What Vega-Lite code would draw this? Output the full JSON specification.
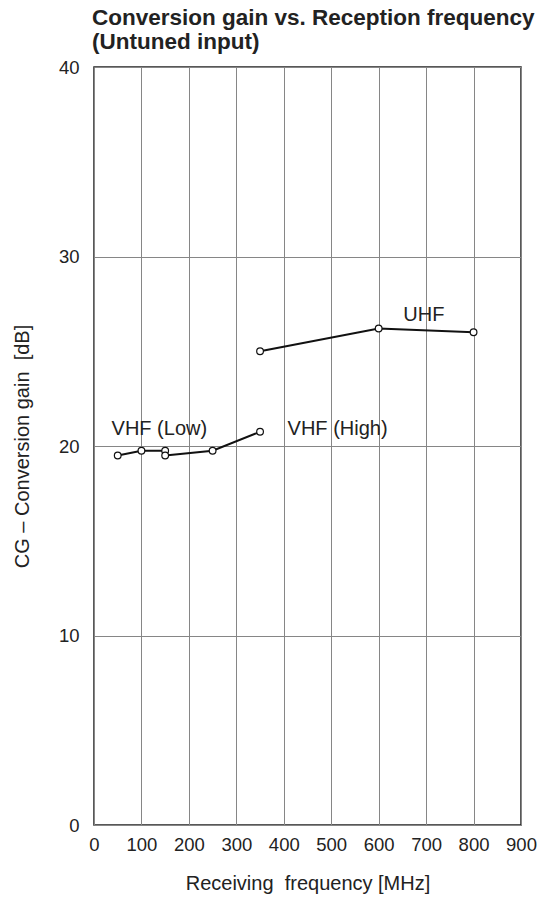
{
  "$schema": "https://vega.github.io/schema/vega-lite/v6.json",
  "autosize": {"type": "none"},
  "width": 427,
  "height": 758,
  "padding": {"left": 94, "top": 67, "right": 20, "bottom": 76},
  "background": "white",
  "title": {
    "text": ["Conversion gain vs. Reception frequency", "(Untuned input)"],
    "anchor": "start",
    "frame": "group",
    "dx": -2,
    "offset": 5,
    "font": "Liberation Sans",
    "fontSize": 22.5,
    "fontWeight": "bold",
    "lineHeight": 24,
    "color": "#222222"
  },
  "config": {
    "view": {"stroke": "#222222", "strokeWidth": 1.5},
    "font": "Liberation Sans",
    "axis": {
      "grid": true,
      "gridColor": "#868686",
      "gridWidth": 1,
      "gridOpacity": 1,
      "domain": false,
      "ticks": false,
      "labelFont": "Liberation Sans",
      "labelFontSize": 18.5,
      "labelColor": "#222222",
      "titleFont": "Liberation Sans",
      "titleFontSize": 20,
      "titleFontWeight": "normal",
      "titleColor": "#222222"
    }
  },
  "datasets": {
    "curves": [
      {"band": "VHF (Low)", "freq": 50, "gain": 19.5},
      {"band": "VHF (Low)", "freq": 100, "gain": 19.75},
      {"band": "VHF (Low)", "freq": 150, "gain": 19.75},
      {"band": "VHF (High)", "freq": 150, "gain": 19.5},
      {"band": "VHF (High)", "freq": 250, "gain": 19.75},
      {"band": "VHF (High)", "freq": 350, "gain": 20.75},
      {"band": "UHF", "freq": 350, "gain": 25.0},
      {"band": "UHF", "freq": 600, "gain": 26.2},
      {"band": "UHF", "freq": 800, "gain": 26.0}
    ],
    "labels": [
      {"text": "VHF (Low)", "freq": 37, "gain": 20.9},
      {"text": "VHF (High)", "freq": 408, "gain": 20.9},
      {"text": "UHF", "freq": 652, "gain": 26.9}
    ]
  },
  "layer": [
    {
      "data": {"name": "curves"},
      "mark": {"type": "line", "color": "#111111", "strokeWidth": 2},
      "encoding": {
        "x": {
          "field": "freq",
          "type": "quantitative",
          "scale": {"domain": [0, 900], "nice": false},
          "axis": {
            "values": [0, 100, 200, 300, 400, 500, 600, 700, 800, 900],
            "labelPadding": 10,
            "labelFlush": false,
            "title": "Receiving\u00a0 frequency [MHz]",
            "titlePadding": 20
          }
        },
        "y": {
          "field": "gain",
          "type": "quantitative",
          "scale": {"domain": [0, 40], "nice": false},
          "axis": {
            "values": [0, 10, 20, 30, 40],
            "labelPadding": 15,
            "labelFlush": false,
            "title": "CG – Conversion gain\u00a0 [dB]",
            "titlePadding": 26
          }
        },
        "detail": {"field": "band"}
      }
    },
    {
      "data": {"name": "curves"},
      "mark": {"type": "point", "shape": "circle", "filled": true, "fill": "white", "stroke": "#111111", "strokeWidth": 1.2, "size": 45, "opacity": 1},
      "encoding": {
        "x": {"field": "freq", "type": "quantitative"},
        "y": {"field": "gain", "type": "quantitative"}
      }
    },
    {
      "data": {"name": "labels"},
      "mark": {"type": "text", "align": "left", "baseline": "middle", "fontSize": 20, "color": "#222222", "font": "Liberation Sans"},
      "encoding": {
        "x": {"field": "freq", "type": "quantitative"},
        "y": {"field": "gain", "type": "quantitative"},
        "text": {"field": "text"}
      }
    }
  ]
}
